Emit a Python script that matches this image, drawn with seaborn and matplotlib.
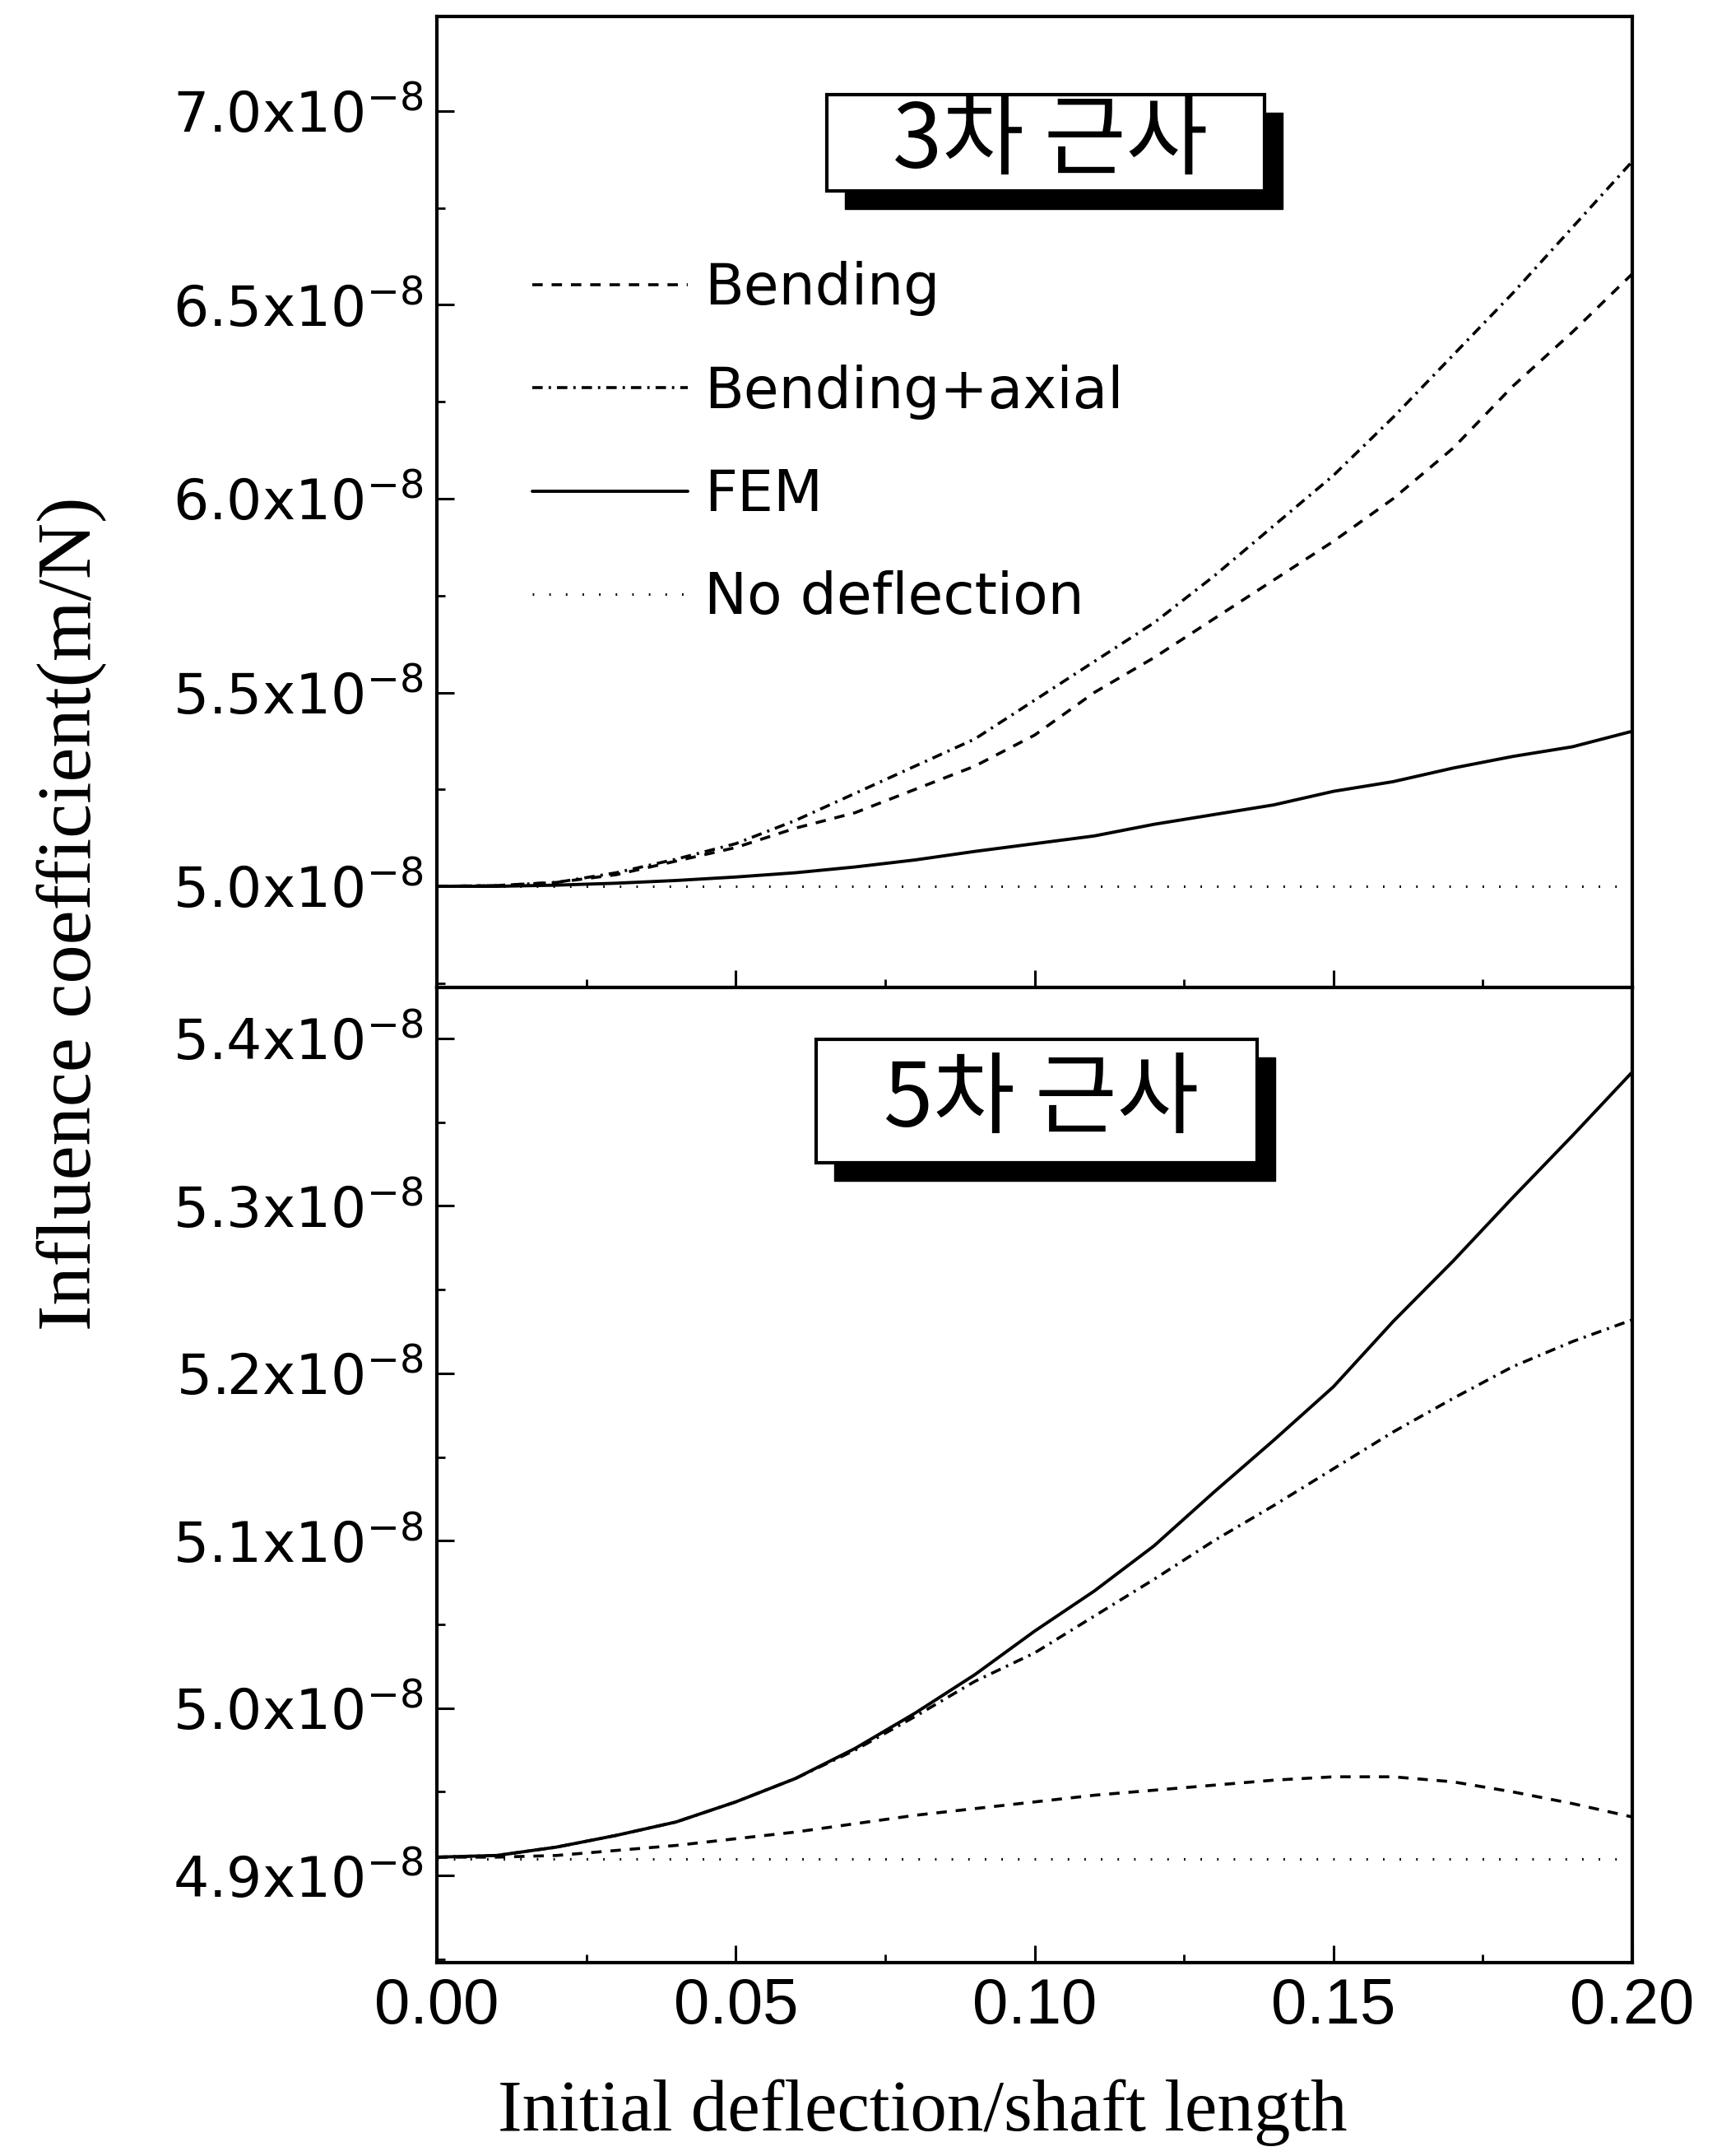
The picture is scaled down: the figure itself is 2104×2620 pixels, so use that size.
import numpy as np
import pandas as pd
import matplotlib
matplotlib.use("Agg")
import matplotlib.pyplot as plt
import seaborn as sns
from matplotlib.patches import Rectangle
from matplotlib.ticker import MultipleLocator, FuncFormatter

# ---------------- data (values in units of 1e-8 m/N) ----------------
SCALE = 1e-8
x_ratio = [0.00, 0.01, 0.02, 0.03, 0.04, 0.05, 0.06, 0.07, 0.08, 0.09, 0.10,
           0.11, 0.12, 0.13, 0.14, 0.15, 0.16, 0.17, 0.18, 0.19, 0.20]

# 3rd-order approximation (top panel)
top_bending = [5.000, 5.002, 5.010, 5.030, 5.065, 5.100, 5.150, 5.190, 5.250, 5.310, 5.390,
               5.500, 5.590, 5.690, 5.790, 5.890, 6.000, 6.130, 6.290, 6.430, 6.580]
top_bending_axial = [5.000, 5.002, 5.010, 5.035, 5.070, 5.110, 5.170, 5.240, 5.310, 5.380, 5.480,
                     5.580, 5.680, 5.800, 5.930, 6.060, 6.210, 6.370, 6.530, 6.700, 6.870]
top_fem = [5.000, 5.000, 5.003, 5.008, 5.015, 5.024, 5.035, 5.050, 5.068, 5.090, 5.110,
           5.130, 5.160, 5.185, 5.210, 5.245, 5.270, 5.305, 5.335, 5.360, 5.400]
top_no_deflection = [5.000] * 21

# 5th-order approximation (bottom panel)
bot_bending = [4.911, 4.911, 4.912, 4.915, 4.918, 4.922, 4.926, 4.931, 4.936, 4.940, 4.944,
               4.948, 4.951, 4.954, 4.957, 4.959, 4.959, 4.956, 4.950, 4.943, 4.935]
bot_bending_axial = [4.911, 4.912, 4.917, 4.924, 4.932, 4.944, 4.958, 4.975, 4.995, 5.016, 5.033,
                     5.055, 5.077, 5.100, 5.121, 5.143, 5.165, 5.185, 5.204, 5.219, 5.232]
bot_fem = [4.911, 4.912, 4.917, 4.924, 4.932, 4.944, 4.958, 4.976, 4.997, 5.020, 5.046,
           5.070, 5.097, 5.129, 5.160, 5.192, 5.231, 5.267, 5.305, 5.342, 5.380]
bot_no_deflection = [4.910] * 21

series_names = ["Bending", "Bending+axial", "FEM", "No deflection"]
panel_titles = ["3차 근사", "5차 근사"]
x_ticks = [0.00, 0.05, 0.10, 0.15, 0.20]
top_yticks = [5.0, 5.5, 6.0, 6.5, 7.0]
bot_yticks = [4.9, 5.0, 5.1, 5.2, 5.3, 5.4]
xlabel = "Initial deflection/shaft length"
ylabel = "Influence coefficient(m/N)"


def make_df(b, ba, fem, nd):
    rows = []
    for name, vals in zip(series_names, [b, ba, fem, nd]):
        for xv, yv in zip(x_ratio, vals):
            rows.append({"x": xv, "value": yv * SCALE, "series": name})
    return pd.DataFrame(rows)


df_top = make_df(top_bending, top_bending_axial, top_fem, top_no_deflection)
df_bot = make_df(bot_bending, bot_bending_axial, bot_fem, bot_no_deflection)

# ---------------- style ----------------
sns.set_theme(style="white", rc={"text.color": "black", "xtick.color": "black",
                                 "ytick.color": "black", "axes.labelcolor": "black",
                                 "axes.edgecolor": "black"})
plt.rcParams["font.family"] = ["DejaVu Sans"]
plt.rcParams["mathtext.fontset"] = "dejavusans"
plt.rcParams["mathtext.default"] = "regular"

styles = {
    "Bending": dict(ls=(0, (3.5, 3.0)), lw=2.6),
    "Bending+axial": dict(ls=(0, (3.5, 2.0, 0.8, 2.0)), lw=2.6),
    "FEM": dict(ls="-", lw=2.8),
    "No deflection": dict(ls=(0, (0.6, 6.0)), lw=2.2),
}

W, H = 2104, 2620
fig = plt.figure(figsize=(W / 100, H / 100), dpi=100)
fig.patch.set_facecolor("white")

L, R = 531, 1984
TOP, MID, BOT = 20, 1200, 2385
ax1 = fig.add_axes([L / W, 1 - MID / H, (R - L) / W, (MID - TOP) / H])
ax2 = fig.add_axes([L / W, 1 - BOT / H, (R - L) / W, (BOT - MID) / H])


def fmt(v, pos):
    return f"{v / SCALE:.1f}x10$^{{-8}}$"


for ax, df in [(ax1, df_top), (ax2, df_bot)]:
    for name in series_names:
        sub = df[df["series"] == name]
        sns.lineplot(data=sub, x="x", y="value", ax=ax, color="black",
                     label=name, legend=False, **styles[name])
    ax.set_xlim(0.0, 0.2)
    ax.xaxis.set_major_locator(MultipleLocator(0.05))
    ax.xaxis.set_minor_locator(MultipleLocator(0.025))
    ax.yaxis.set_major_formatter(FuncFormatter(fmt))
    ax.set_xlabel("")
    ax.set_ylabel("")
    for sp in ax.spines.values():
        sp.set_color("black")
        sp.set_linewidth(3.0)
        sp.set_visible(True)
    ax.tick_params(which="major", direction="in", length=15, width=2.2, color="black",
                   labelcolor="black", left=True, bottom=True, top=False, right=False)
    ax.tick_params(which="minor", direction="in", length=7, width=2.0, color="black",
                   left=True, bottom=True, top=False, right=False)
    ax.tick_params(axis="y", labelsize=49, pad=12)
    ax.set_facecolor("white")

ax1.set_ylim(4.739 * SCALE, 7.244 * SCALE)
ax1.set_yticks([v * SCALE for v in top_yticks])
ax1.yaxis.set_minor_locator(MultipleLocator(0.25 * SCALE))
ax1.tick_params(axis="x", labelbottom=False)

ax2.set_ylim(4.848 * SCALE, 5.4305 * SCALE)
ax2.set_yticks([v * SCALE for v in bot_yticks])
ax2.yaxis.set_minor_locator(MultipleLocator(0.05 * SCALE))
ax2.set_xticks(x_ticks)
ax2.set_xticklabels([f"{v:.2f}" for v in x_ticks], family=["Liberation Sans", "DejaVu Sans"])
ax2.tick_params(axis="x", labelsize=56, pad=12)

# legend (top panel)
handles, labels = ax1.get_legend_handles_labels()
leg = ax1.legend(handles, labels, loc="upper left", bbox_to_anchor=(0.08, 0.748),
                 frameon=False, fontsize=50, handlelength=2.72, handletextpad=0.29,
                 labelspacing=0.84, borderpad=0.0, borderaxespad=0.0, labelcolor="black")

# axis labels
fig.text(1121 / W, 1 - 2567 / H, xlabel, ha="center", va="center", color="black",
         fontsize=64, family=["Liberation Serif", "DejaVu Serif"])
fig.text(87 / W, 1 - 1110 / H, ylabel, ha="center", va="center", rotation=90, color="black",
         fontsize=68, family=["Liberation Serif", "DejaVu Serif"])


# shadowed title boxes
def title_box(x0, y0, x1, y1, text, off=22):
    shadow = Rectangle(((x0 + off) / W, 1 - (y1 + off) / H), (x1 - x0) / W, (y1 - y0) / H,
                       transform=fig.transFigure, facecolor="black", edgecolor="black",
                       zorder=10)
    box = Rectangle((x0 / W, 1 - y1 / H), (x1 - x0) / W, (y1 - y0) / H,
                    transform=fig.transFigure, facecolor="white", edgecolor="black",
                    linewidth=3.0, zorder=11)
    fig.add_artist(shadow)
    fig.add_artist(box)
    fig.text((x0 + x1) / 2 / W + 6 / W, 1 - (y0 + y1) / 2 / H, text, ha="center", va="center",
             fontsize=78, zorder=12, color="black",
             family=["Noto Sans CJK KR", "DejaVu Sans"])


title_box(1005, 115, 1537, 232, panel_titles[0])
title_box(992, 1263, 1528, 1413, panel_titles[1])

fig.savefig("out.png", dpi=100, facecolor="white")
